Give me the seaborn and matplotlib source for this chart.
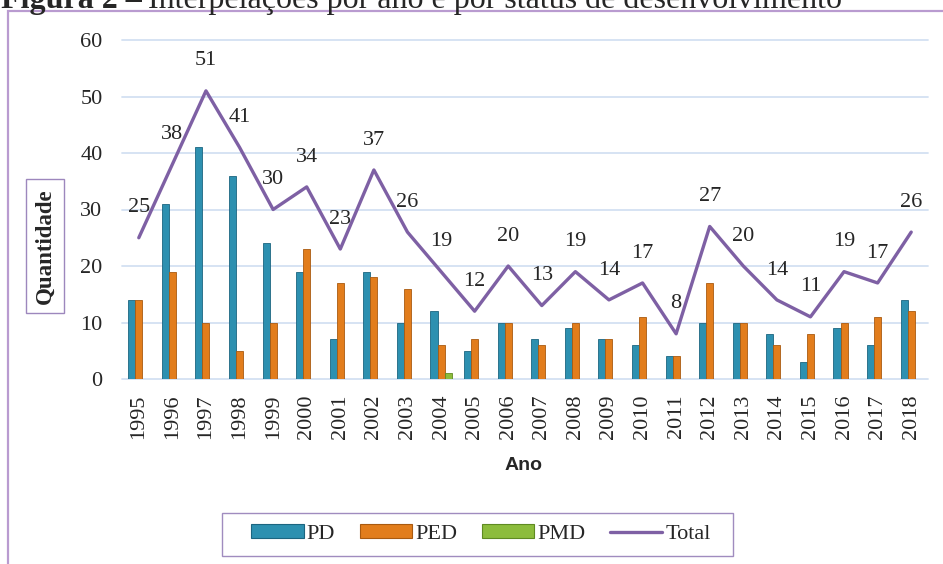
import numpy as np
import pandas as pd
import matplotlib
matplotlib.use('Agg')
import matplotlib.pyplot as plt
import seaborn as sns
from matplotlib.patches import Patch, Rectangle
from matplotlib.lines import Line2D

# ── Data ──────────────────────────────────────────────────────
anos = [str(a) for a in range(1995, 2019)]
pd_vals = [14, 31, 41, 36, 24, 19, 7, 19, 10, 12, 5, 10, 7, 9, 7, 6, 4, 10, 10, 8, 3, 9, 6, 14]
ped_vals = [14, 19, 10, 5, 10, 23, 17, 18, 16, 6, 7, 10, 6, 10, 7, 11, 4, 17, 10, 6, 8, 10, 11, 12]
pmd_vals = [0, 0, 0, 0, 0, 0, 0, 0, 0, 1, 0, 0, 0, 0, 0, 0, 0, 0, 0, 0, 0, 0, 0, 0]
total_vals = [25, 38, 51, 41, 30, 34, 23, 37, 26, 19, 12, 20, 13, 19, 14, 17, 8, 27, 20, 14, 11, 19, 17, 26]
series = ['PD', 'PED', 'PMD']

colors = {'PD': '#2d90b0', 'PED': '#e27d1c', 'PMD': '#8cbc3c'}
edges = {'PD': '#1c6580', 'PED': '#a95a10', 'PMD': '#5f8a22'}
line_color = '#7e60a4'
grid_color = '#d3e1f2'
frame_color = '#b99bd0'

df = pd.DataFrame({
    'Ano': anos * 3,
    'Serie': [s for s in series for _ in anos],
    'Valor': pd_vals + ped_vals + pmd_vals,
})

# ── Style ─────────────────────────────────────────────────────
sns.set_theme(style='white')
plt.rcParams['font.family'] = ['Liberation Serif', 'DejaVu Serif']

W, H = 943, 564
fig = plt.figure(figsize=(W / 100, H / 100), dpi=100)

def fx(px):
    return px / W

def fy(py):
    return 1 - py / H

# outer frame (runs off the right and bottom edges)
fig.patches.append(Rectangle((fx(8), -0.1), 1.2, fy(11) + 0.1, transform=fig.transFigure,
                             fill=False, edgecolor=frame_color, linewidth=1.6, clip_on=False))

ax = fig.add_axes([fx(122), fy(379), fx(928) - fx(122), fy(40) - fy(379)])

sns.barplot(data=df, x='Ano', y='Valor', hue='Serie', hue_order=series,
            palette=colors, width=0.63, gap=0, saturation=1, errorbar=None,
            legend=False, ax=ax)

for cont, s in zip(ax.containers, series):
    for bar in cont:
        bar.set_edgecolor(edges[s])
        bar.set_linewidth(0.6)

x = np.arange(len(anos))
sns.lineplot(x=x, y=total_vals, color=line_color, linewidth=2.4, ax=ax)

for xi, v in zip(x, total_vals):
    ax.annotate(str(v), (xi, v), xytext=(0, 21.5), textcoords='offset points',
                ha='center', va='center', fontsize=16)

ax.set_xlim(-0.5, len(anos) - 0.5)
ax.set_ylim(0, 60)
ax.set_yticks(range(0, 61, 10))
ax.set_xticks(x)
ax.set_xticklabels(anos, rotation=90, fontsize=16)
ax.tick_params(axis='y', length=0, pad=14, labelsize=16)
ax.tick_params(axis='x', length=0, pad=11)
ax.yaxis.grid(True, color=grid_color, linewidth=1.3)
ax.set_axisbelow(True)
for gl in ax.get_ygridlines():
    gl.set_clip_on(False)
for sp in ax.spines.values():
    sp.set_visible(False)
ax.set_xlabel('')
ax.set_ylabel('')

# axis titles
fig.text(fx(45), fy(246), 'Quantidade', rotation=90, ha='center', va='center',
         fontsize=16.5, fontweight='bold',
         bbox=dict(boxstyle='square,pad=0.38', facecolor='white', edgecolor='#9d87bd', linewidth=1))
fig.text(fx(524), fy(466), 'Ano', ha='center', va='center', fontsize=14,
         fontweight='bold', family=['Liberation Sans', 'DejaVu Sans'])

# legend: entries without frame, box drawn separately (wider than the entries)
handles = [Patch(facecolor=colors[s], edgecolor=edges[s], linewidth=0.8) for s in series]
handles.append(Line2D([0], [0], color=line_color, linewidth=2.4))
fig.legend(handles, series + ['Total'], loc='center', bbox_to_anchor=(fx(481), fy(534)),
           ncol=4, fontsize=16, frameon=False, handlelength=2.35,
           handleheight=0.6, handletextpad=0.15, columnspacing=1.1,
           borderpad=0, borderaxespad=0)
fig.patches.append(Rectangle((fx(222), fy(556)), fx(733) - fx(222), fy(513) - fy(556),
                             transform=fig.transFigure, fill=False,
                             edgecolor='#a08cbf', linewidth=1))

# title, cut off at the top edge as in the source
t1 = fig.text(fx(1), fy(8), 'Figura 2 –', fontsize=23, fontweight='bold',
              ha='left', va='baseline')
fig.canvas.draw()
bb = t1.get_window_extent()
fig.text((bb.x1 + 6) / W, fy(8), 'Interpelações por ano e por status de desenvolvimento',
         fontsize=23, ha='left', va='baseline')

fig.savefig('out.png', dpi=100)
